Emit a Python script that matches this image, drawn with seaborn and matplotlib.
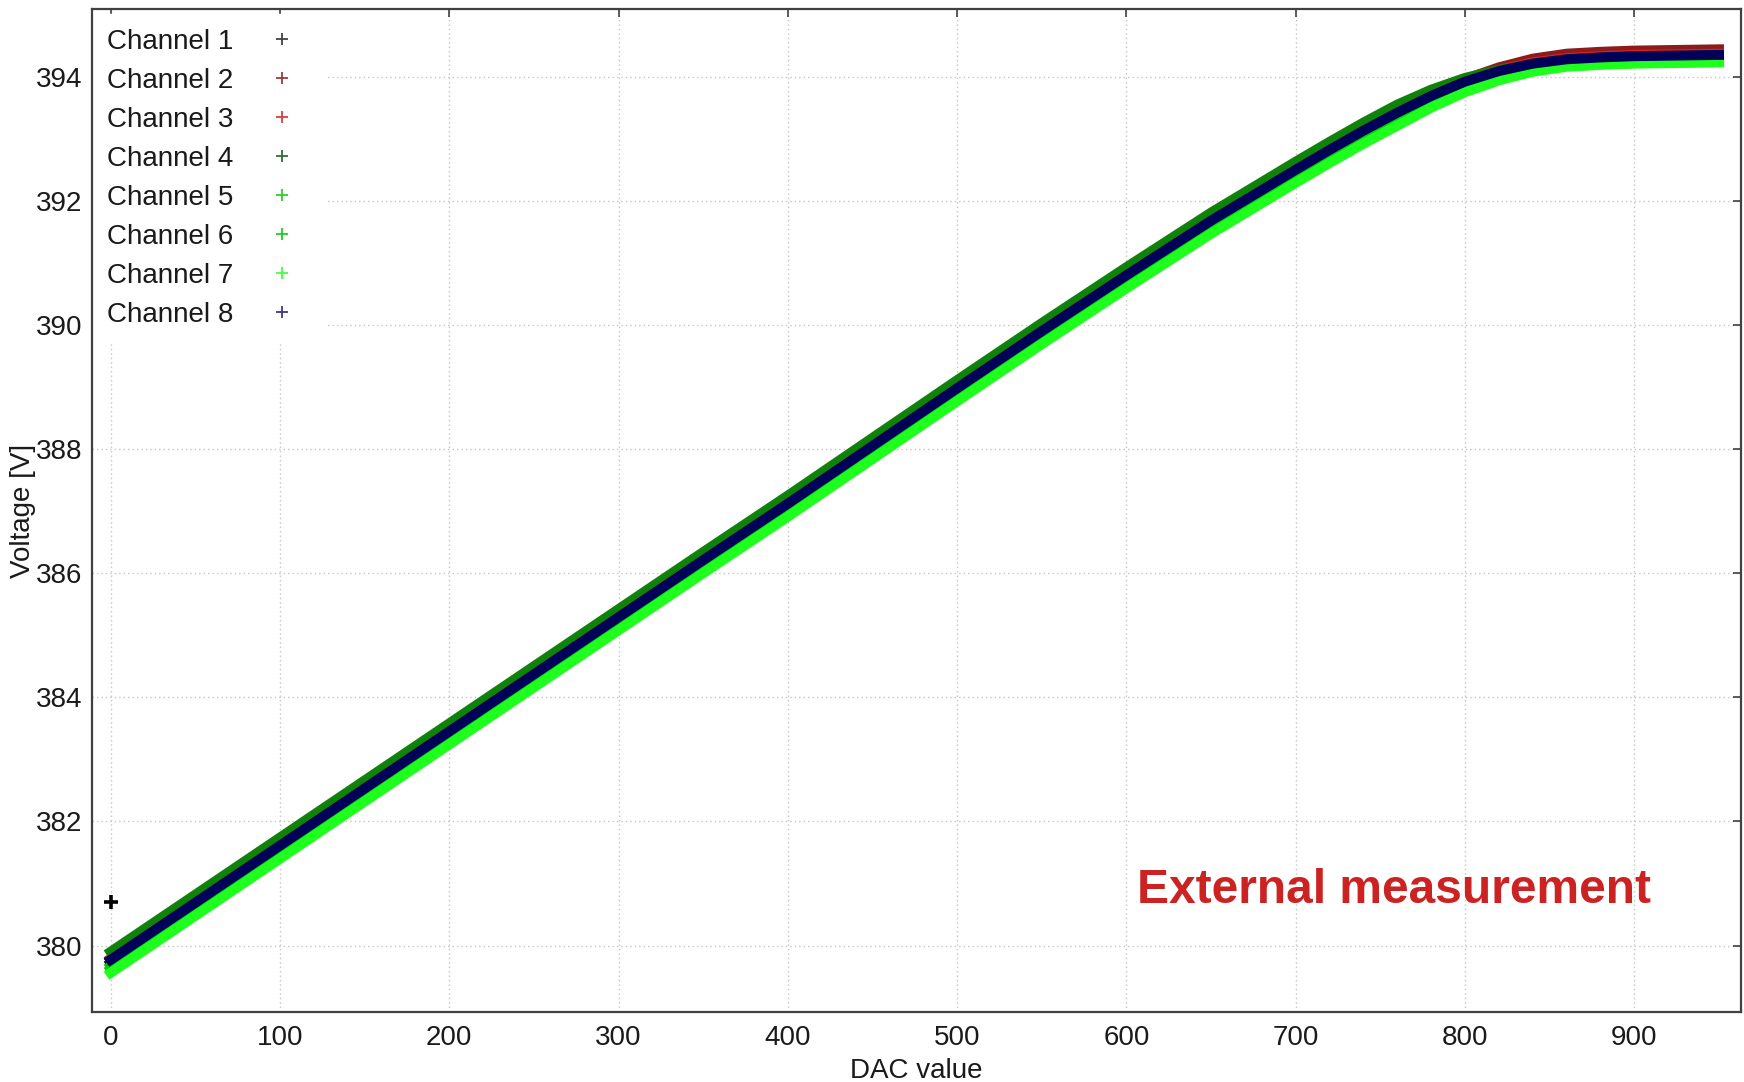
import numpy as np
import pandas as pd
import matplotlib
matplotlib.use("Agg")
import matplotlib.pyplot as plt
from matplotlib.lines import Line2D
import seaborn as sns

# ---------------- data ----------------
dac = [0, 50, 100, 150, 200, 250, 300, 350, 400, 450, 500, 550, 600, 650, 700,
       720, 740, 760, 780, 800, 820, 840, 860, 880, 900, 950]

ch1 = [379.72, 380.64, 381.56, 382.48, 383.40, 384.32, 385.24, 386.16, 387.07, 388.00,
       388.93, 389.85, 390.75, 391.63, 392.45, 392.77, 393.08, 393.37, 393.64, 393.87,
       394.05, 394.17, 394.24, 394.27, 394.29, 394.31]
ch2 = [379.79, 380.71, 381.63, 382.55, 383.47, 384.39, 385.31, 386.23, 387.14, 388.07,
       389.00, 389.92, 390.82, 391.70, 392.52, 392.84, 393.15, 393.44, 393.72, 393.96,
       394.15, 394.29, 394.37, 394.40, 394.42, 394.44]
ch3 = [379.77, 380.69, 381.61, 382.53, 383.45, 384.37, 385.29, 386.21, 387.12, 388.05,
       388.98, 389.90, 390.80, 391.68, 392.50, 392.82, 393.13, 393.42, 393.69, 393.93,
       394.11, 394.23, 394.30, 394.33, 394.35, 394.37]
ch4 = [379.90, 380.82, 381.74, 382.66, 383.58, 384.50, 385.42, 386.34, 387.25, 388.18,
       389.11, 390.03, 390.93, 391.81, 392.63, 392.95, 393.26, 393.55, 393.79, 393.98,
       394.11, 394.19, 394.23, 394.26, 394.28, 394.30]
ch5 = [379.67, 380.59, 381.51, 382.43, 383.35, 384.27, 385.19, 386.11, 387.02, 387.95,
       388.88, 389.80, 390.70, 391.58, 392.40, 392.72, 393.03, 393.32, 393.59, 393.82,
       393.99, 394.11, 394.18, 394.21, 394.23, 394.25]
ch6 = [379.62, 380.54, 381.46, 382.38, 383.30, 384.22, 385.14, 386.06, 386.97, 387.90,
       388.83, 389.75, 390.65, 391.53, 392.35, 392.67, 392.98, 393.27, 393.55, 393.79,
       393.97, 394.10, 394.17, 394.20, 394.22, 394.24]
ch7 = [379.56, 380.48, 381.40, 382.32, 383.24, 384.16, 385.08, 386.00, 386.91, 387.84,
       388.77, 389.69, 390.59, 391.47, 392.29, 392.61, 392.92, 393.21, 393.50, 393.75,
       393.94, 394.08, 394.16, 394.19, 394.21, 394.23]
ch8 = [379.77, 380.69, 381.61, 382.53, 383.45, 384.37, 385.29, 386.21, 387.12, 388.05,
       388.98, 389.90, 390.80, 391.68, 392.50, 392.82, 393.13, 393.42, 393.69, 393.92,
       394.09, 394.21, 394.28, 394.31, 394.33, 394.35]

channel_names = ["Channel 1", "Channel 2", "Channel 3", "Channel 4",
                 "Channel 5", "Channel 6", "Channel 7", "Channel 8"]
channel_colors = ["#111111", "#8b1c1c", "#e02020", "#0f820a",
                  "#00c400", "#00d400", "#1eff1e", "#000058"]
legend_colors = ["#444444", "#9a3a3a", "#e03a3a", "#2f6f2f",
                 "#33cc33", "#22cc22", "#44ff44", "#3a3a8a"]

# stray first reading of channel 1
ch1_outlier_dac = [0]
ch1_outlier_v = [380.70]

x_ticks = [0, 100, 200, 300, 400, 500, 600, 700, 800, 900]
y_ticks = [380, 382, 384, 386, 388, 390, 392, 394]

# ---------------- figure ----------------
sns.set_theme(style="white")
plt.rcParams["font.family"] = ["Liberation Sans", "DejaVu Sans"]

W, H = 1744, 1082
fig = plt.figure(figsize=(W / 100, H / 100), dpi=100)
ax = fig.add_axes([92 / W, 1 - 1012 / H, (1741 - 92) / W, (1012 - 9) / H])

series = [ch1, ch2, ch3, ch4, ch5, ch6, ch7, ch8]
df = pd.concat([pd.DataFrame({"DAC": dac, "V": s, "Channel": n})
                for s, n in zip(series, channel_names)], ignore_index=True)

sns.lineplot(data=df, x="DAC", y="V", hue="Channel", hue_order=channel_names,
             palette=dict(zip(channel_names, channel_colors)), linewidth=7.2,
             estimator=None, sort=False, legend=False, ax=ax,
             solid_capstyle="projecting", solid_joinstyle="round")

sns.scatterplot(x=ch1_outlier_dac, y=ch1_outlier_v, marker="+", s=90,
                linewidth=2.6, color="black", ax=ax, legend=False, zorder=4)

ax.set_xlim(-11, 963)
ax.set_ylim(378.93, 395.09)
ax.set_xticks(x_ticks)
ax.set_yticks(y_ticks)
ax.set_xticklabels([str(t) for t in x_ticks])
ax.set_yticklabels([str(t) for t in y_ticks])

ax.grid(True, color="#c4c4c4", linestyle=(0, (1, 2.2)), linewidth=1.0)
for sp in ax.spines.values():
    sp.set_color("#404040")
    sp.set_linewidth(1.6)
    sp.set_zorder(3)
ax.tick_params(direction="in", length=6, width=1.2, color="#404040",
               top=True, right=True, labelsize=20, labelcolor="#1a1a1a")
ax.tick_params(axis="x", pad=9.4)
ax.tick_params(axis="y", pad=7)

ax.set_xlabel("DAC value", fontsize=20, color="#1a1a1a")
ax.set_ylabel("Voltage [V]", fontsize=20, color="#1a1a1a")
ax.xaxis.set_label_coords(0.5, -0.0463)
ax.yaxis.set_label_coords(-0.034, 0.5)

ax.text(0.634, 0.1213, "External measurement", transform=ax.transAxes,
        fontsize=34.5, fontweight="bold", color="#cc2222", ha="left", va="center")

handles = [Line2D([], [], marker="+", linestyle="none", color=c,
                  markersize=8, markeredgewidth=1.3) for c in legend_colors]
leg = ax.legend(handles, channel_names, loc="upper left",
                bbox_to_anchor=(0, 1 - 4.5 / 1003),
                borderaxespad=0, markerfirst=False, fontsize=20,
                frameon=True, framealpha=1, edgecolor="white", facecolor="white",
                handletextpad=0.75, handlelength=2.0, labelspacing=0.47,
                borderpad=0.55, fancybox=False)
leg.set_zorder(2.4)
for t in leg.get_texts():
    t.set_color("#1a1a1a")

fig.savefig("out.png", dpi=100, facecolor="white")
